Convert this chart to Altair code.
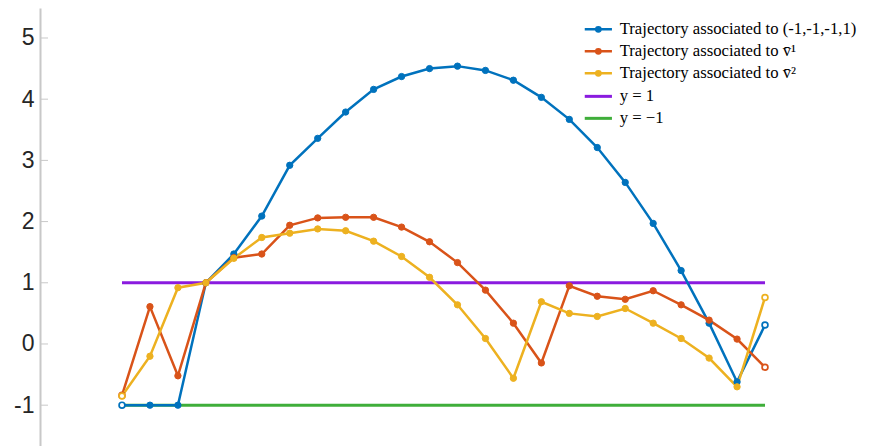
import altair as alt
import pandas as pd

# ---- data ----
x_index = list(range(24))
traj_blue = [-1.00, -1.00, -1.00, 1.00, 1.47, 2.09, 2.92, 3.36, 3.79, 4.16, 4.37, 4.50,
             4.54, 4.47, 4.31, 4.03, 3.67, 3.21, 2.64, 1.97, 1.20, 0.34, -0.62, 0.31]
traj_orange = [-0.84, 0.61, -0.52, 1.00, 1.41, 1.47, 1.94, 2.06, 2.07, 2.07, 1.91, 1.67,
               1.33, 0.88, 0.34, -0.31, 0.95, 0.78, 0.73, 0.87, 0.64, 0.39, 0.08, -0.38]
traj_yellow = [-0.85, -0.20, 0.92, 1.00, 1.40, 1.74, 1.81, 1.88, 1.85, 1.68, 1.43, 1.09,
               0.64, 0.09, -0.56, 0.69, 0.50, 0.45, 0.58, 0.34, 0.09, -0.23, -0.70, 0.76]
traj_names = [
    "Trajectory associated to (-1,-1,-1,1)",
    "Trajectory associated to v\u0304\u00b9",
    "Trajectory associated to v\u0304\u00b2",
]
traj_colors = ["#0072BD", "#D95319", "#EDB120"]
ref_names = ["y = 1", "y = \u22121"]
ref_levels = [1, -1]
ref_colors = ["#8A1BDF", "#3FAE3A"]
y_ticks = [-1, 0, 1, 2, 3, 4, 5]

# ---- tables ----
rows = []
for name, vals in zip(traj_names, [traj_blue, traj_orange, traj_yellow]):
    for i, v in zip(x_index, vals):
        rows.append({"traj": name, "x": i, "y": v,
                     "end": i == x_index[0] or i == x_index[-1]})
traj = pd.DataFrame(rows)

ref = pd.DataFrame([{"ref": n, "x": xx, "y": lv}
                    for n, lv in zip(ref_names, ref_levels)
                    for xx in (x_index[0], x_index[-1])])
ticks = pd.DataFrame({"t": y_ticks})

xs = alt.Scale(domain=[-2.933, 26.04], nice=False, zero=False)
ys = alt.Scale(domain=[-1.667, 5.49], nice=False, zero=False)

yaxis = alt.Axis(values=y_ticks, ticks=False, grid=False, domain=True,
                 domainColor="#c8c8c8", domainWidth=2, labelFont="Liberation Sans",
                 labelFontSize=23, labelColor="#262626", labelPadding=6,
                 labelExpr="datum.value + ''", title=None, labelFlush=False,
                 labelOverlap=False)

traj_sym = "M-3.4,0L3.4,0M0.55,0A0.55,0.55,0,1,1,-0.55,0A0.55,0.55,0,1,1,0.55,0Z"
ref_sym = "M-3.4,0L3.4,0"
leg_common = dict(orient="none", title=None, labelFont="Liberation Serif",
                  labelFontSize=16.7, labelColor="black", symbolSize=64,
                  symbolFillColor="white", rowPadding=4, padding=0,
                  labelOffset=13, labelLimit=400)
traj_legend = alt.Legend(symbolType=traj_sym, symbolStrokeWidth=2.5,
                         legendX=550, legendY=13, **leg_common)
ref_legend = alt.Legend(symbolType=ref_sym, symbolStrokeWidth=3,
                        legendX=550, legendY=80, **leg_common)

traj_scale = alt.Scale(domain=traj_names, range=traj_colors)
X = alt.X("x:Q", scale=xs, axis=None)
Y = alt.Y("y:Q", scale=ys, axis=yaxis)

tick_layer = alt.Chart(ticks).mark_rule(color="#c8c8c8", strokeWidth=1).encode(
    y=alt.Y("t:Q", scale=ys, axis=yaxis), x=alt.value(0), x2=alt.value(8))

ref_layer = alt.Chart(ref).mark_line(strokeWidth=3).encode(
    x=X, y=Y,
    color=alt.Color("ref:N", scale=alt.Scale(domain=ref_names, range=ref_colors),
                    legend=ref_legend))

line_layer = alt.Chart(traj).mark_line(strokeWidth=2.5).encode(
    x=X, y=Y, stroke=alt.Stroke("traj:N", scale=traj_scale, legend=traj_legend))

pt_layer = alt.Chart(traj).transform_filter("!datum.end").mark_point(
    filled=True, size=40, strokeWidth=1, opacity=1).encode(
    x=X, y=Y,
    fill=alt.Fill("traj:N", scale=traj_scale, legend=traj_legend),
    stroke=alt.Stroke("traj:N", scale=traj_scale, legend=traj_legend))

end_layer = alt.Chart(traj).transform_filter("datum.end").mark_point(
    filled=False, fill="white", size=34, strokeWidth=1.7, opacity=1).encode(
    x=X, y=Y, stroke=alt.Stroke("traj:N", scale=traj_scale, legend=traj_legend))

chart = alt.layer(tick_layer, ref_layer, line_layer, pt_layer, end_layer).properties(
    width=810, height=438,
    autosize=alt.AutoSizeParams(type="none"),
    padding={"left": 32, "top": 0, "right": 10, "bottom": 0},
    background="white",
).configure_view(stroke=None)

chart.save("out.html", embed_options={"renderer": "svg", "actions": False})
